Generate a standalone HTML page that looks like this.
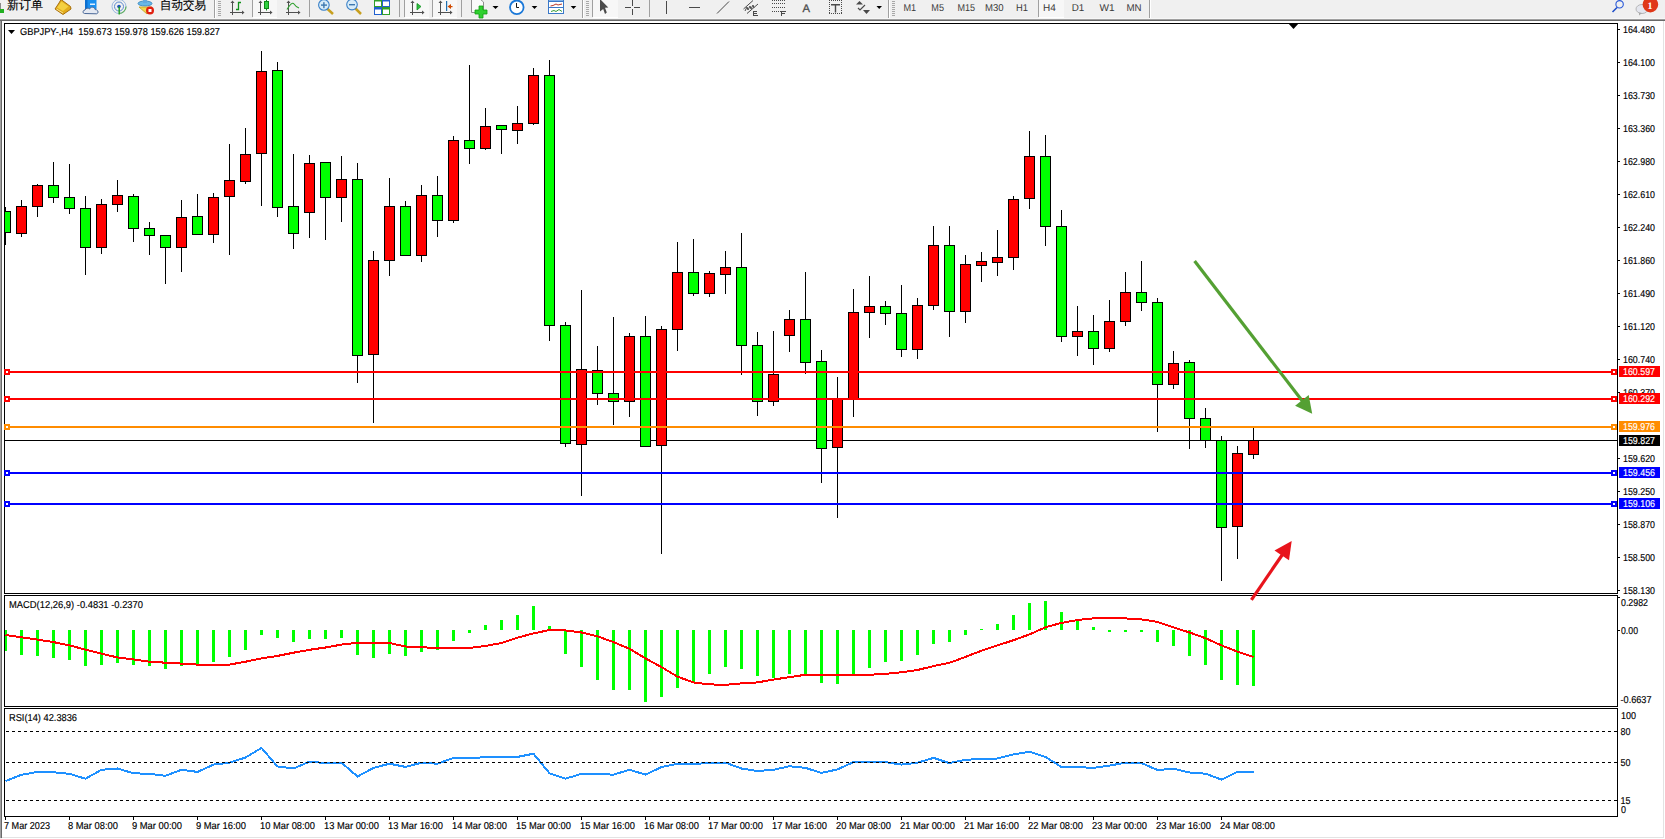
<!DOCTYPE html>
<html><head><meta charset="utf-8">
<style>
html,body{margin:0;padding:0;background:#f0f0f0;width:1665px;height:839px;overflow:hidden;font-family:"Liberation Sans",sans-serif;}
svg{position:absolute;left:0;top:0;display:block;}
text{text-rendering:geometricPrecision;}
.tk text{stroke:#000;stroke-width:0.15px;}
.tw{stroke:#fff;stroke-width:0.15px;}
</style></head><body>
<svg width="1665" height="839" viewBox="0 0 1665 839">
<rect x="0" y="0" width="1665" height="839" fill="#f0f0f0"/>
<rect x="0" y="21" width="1" height="817" fill="#a0a0a0"/>
<rect x="1" y="21" width="1" height="817" fill="#696969"/>
<rect x="2" y="837" width="1662" height="1" fill="#e3e3e3"/>
<rect x="1663" y="21" width="1" height="817" fill="#e3e3e3"/>
<rect x="1664" y="21" width="1" height="818" fill="#ffffff"/>
<rect x="2" y="838" width="1663" height="1" fill="#ffffff"/>
<rect x="0" y="0" width="1665" height="18" fill="#f0f0f0"/><rect x="0" y="18" width="1665" height="1" fill="#f7f7f7"/><rect x="0" y="19" width="1665" height="1" fill="#a0a0a0"/><rect x="0" y="20" width="1665" height="1" fill="#696969"/><g font-family="Liberation Sans, sans-serif">
<!-- partial green icon -->
<rect x="0" y="3" width="1" height="8" fill="#8a8a8a"/>
<rect x="0" y="9" width="4" height="4" fill="#22b022"/>
<text x="7" y="9" font-size="12.5" stroke="#000" stroke-width="0.15" fill="#000" textLength="36" lengthAdjust="spacingAndGlyphs">新订单</text>
<!-- gold book -->
<polygon points="61,-0.5 70.5,6.5 71,9 63,14.5 55,9 59,3" fill="#e2ac1c" stroke="#a8700e" stroke-width="1" stroke-linejoin="round"/>
<polygon points="61.5,1.5 68.5,6.5 63,11 57,7.5" fill="#f4d040"/>
<line x1="56.5" y1="9" x2="63" y2="13" stroke="#f8e090" stroke-width="1"/>
<!-- blue doc + cloud -->
<rect x="85" y="-2" width="11.5" height="11" fill="#1a90f0"/>
<rect x="85" y="-2" width="2.5" height="11" fill="#0c70d0"/>
<rect x="90" y="3.5" width="5" height="1.5" fill="#e0f0ff"/>
<path d="M84.5,13.5 C82.5,13.5 82.5,10 85,10 C85.5,8 88.5,7.5 89.5,9 C90.5,6.5 94.5,6.5 95,9.5 C98.5,9.5 99,13.5 96.5,13.8 Z" fill="#e4e9f2" stroke="#4a6898" stroke-width="1"/>
<!-- radar -->
<circle cx="119" cy="6.5" r="7" fill="none" stroke="#9ab8e0" stroke-width="1"/>
<circle cx="119" cy="6.5" r="4.5" fill="none" stroke="#5a88d0" stroke-width="1"/>
<path d="M119,13.5 A7,7 0 0 0 126,6.5" fill="none" stroke="#60b060" stroke-width="1.2"/>
<circle cx="119" cy="6.5" r="1.8" fill="#2050c0"/>
<rect x="118.5" y="6.5" width="1.4" height="8" fill="#20a020"/>
<!-- auto trading -->
<ellipse cx="145" cy="3.5" rx="7" ry="2.5" fill="#68b8e8" stroke="#3080b8" stroke-width="0.8"/>
<rect x="143" y="-2" width="4" height="5" fill="#60a8e0"/>
<polygon points="139,7 152,7 147,14" fill="#f0d850" stroke="#c0a020" stroke-width="0.8"/>
<circle cx="150" cy="10.5" r="4" fill="#e02010"/>
<rect x="148.5" y="9" width="3" height="3" fill="#fff"/>
<text x="160" y="9" font-size="12.5" stroke="#000" stroke-width="0.15" fill="#000" textLength="46" lengthAdjust="spacingAndGlyphs">自动交易</text>
<g shape-rendering="crispEdges">
<!-- separators -->
<rect x="214" y="0" width="1" height="18" fill="#a0a0a0"/><rect x="215" y="0" width="1" height="18" fill="#ffffff"/>
<rect x="252" y="0" width="1" height="17" fill="#a0a0a0"/>
<rect x="309" y="0" width="1" height="17" fill="#a0a0a0"/>
<rect x="399" y="0" width="1" height="17" fill="#a0a0a0"/>
<rect x="404" y="0" width="1" height="17" fill="#a0a0a0"/>
<rect x="432" y="0" width="1" height="17" fill="#a0a0a0"/>
<rect x="461" y="0" width="1" height="17" fill="#a0a0a0"/>
<rect x="582" y="0" width="1" height="18" fill="#a0a0a0"/><rect x="583" y="0" width="1" height="18" fill="#ffffff"/>
<rect x="592" y="0" width="1" height="17" fill="#a0a0a0"/>
<rect x="649" y="0" width="1" height="17" fill="#a0a0a0"/>
<rect x="888" y="0" width="1" height="18" fill="#a0a0a0"/><rect x="889" y="0" width="1" height="18" fill="#ffffff"/>
<rect x="1038" y="0" width="1" height="17" fill="#a0a0a0"/>
<rect x="1149" y="0" width="1" height="18" fill="#a0a0a0"/><rect x="1150" y="0" width="1" height="18" fill="#ffffff"/>
<!-- pressed backgrounds -->
<rect x="253" y="0" width="24" height="17" fill="#f7f7f7"/>
<rect x="405" y="0" width="24" height="17" fill="#f7f7f7"/>
<rect x="433" y="0" width="24" height="17" fill="#f7f7f7"/>
<rect x="593" y="0" width="25" height="17" fill="#f7f7f7"/>
<rect x="1039" y="0" width="25" height="17" fill="#f7f7f7"/>
<rect x="253" y="17" width="24" height="1" fill="#ffffff"/>
<rect x="405" y="17" width="24" height="1" fill="#ffffff"/>
<rect x="433" y="17" width="24" height="1" fill="#ffffff"/>
<rect x="593" y="17" width="25" height="1" fill="#ffffff"/>
<rect x="1039" y="17" width="25" height="1" fill="#ffffff"/>
<!-- grips -->
<path d="M218,1h3v1h-3zM218,3h3v1h-3zM218,5h3v1h-3zM218,7h3v1h-3zM218,9h3v1h-3zM218,11h3v1h-3zM218,13h3v1h-3zM218,15h3v1h-3z" fill="#a8a8a8"/>
<path d="M586,1h3v1h-3zM586,3h3v1h-3zM586,5h3v1h-3zM586,7h3v1h-3zM586,9h3v1h-3zM586,11h3v1h-3zM586,13h3v1h-3zM586,15h3v1h-3z" fill="#a8a8a8"/>
<path d="M892,1h3v1h-3zM892,3h3v1h-3zM892,5h3v1h-3zM892,7h3v1h-3zM892,9h3v1h-3zM892,11h3v1h-3zM892,13h3v1h-3zM892,15h3v1h-3z" fill="#a8a8a8"/>
</g>
<!-- axis icons -->
<g fill="#505050" shape-rendering="crispEdges">
<rect x="232" y="2" width="1" height="13"/><rect x="230" y="12" width="14" height="1"/>
<rect x="260" y="2" width="1" height="13"/><rect x="258" y="12" width="14" height="1"/>
<rect x="288" y="2" width="1" height="13"/><rect x="286" y="12" width="14" height="1"/>
<rect x="412" y="2" width="1" height="13"/><rect x="410" y="12" width="14" height="1"/>
<rect x="440" y="2" width="1" height="13"/><rect x="438" y="12" width="14" height="1"/>
</g>
<g fill="#505050">
<polygon points="230.5,3 234.5,3 232.5,0.5"/><polygon points="242,10.5 242,14.5 244.5,12.5"/>
<polygon points="258.5,3 262.5,3 260.5,0.5"/><polygon points="270,10.5 270,14.5 272.5,12.5"/>
<polygon points="286.5,3 290.5,3 288.5,0.5"/><polygon points="298,10.5 298,14.5 300.5,12.5"/>
<polygon points="410.5,3 414.5,3 412.5,0.5"/><polygon points="422,10.5 422,14.5 424.5,12.5"/>
<polygon points="438.5,3 442.5,3 440.5,0.5"/><polygon points="450,10.5 450,14.5 452.5,12.5"/>
</g>
<path d="M236,9.5h2.5v-7h2.5" fill="none" stroke="#10901a" stroke-width="1.3"/>
<rect x="264.5" y="1.5" width="4" height="7" fill="#30d040" stroke="#108a18" stroke-width="1"/>
<rect x="266" y="8.5" width="1" height="2" fill="#108a18"/><rect x="266" y="-1" width="1" height="2.5" fill="#108a18"/>
<path d="M287,9.5 Q292,1 294,4 T299,8" fill="none" stroke="#30a030" stroke-width="1.1"/>
<polygon points="417,3.5 417,10 421,6.5" fill="#30c040" stroke="#109020" stroke-width="0.8"/>
<rect x="446" y="1" width="1.2" height="10" fill="#2070b0"/>
<polygon points="447.5,6.5 451,4 451,9" fill="#d04a00"/><rect x="449" y="6" width="3.5" height="1.2" fill="#d04a00"/>
<!-- zoom -->
<line x1="327" y1="8.5" x2="333" y2="14" stroke="#c8a020" stroke-width="2.5"/>
<circle cx="323.9" cy="5" r="5.3" fill="#d8ecf8" stroke="#3c82c8" stroke-width="1.1"/>
<rect x="321" y="4.4" width="6" height="1.4" fill="#3c78b0"/><rect x="323.2" y="2.2" width="1.4" height="6" fill="#3c78b0"/>
<line x1="355.5" y1="8.5" x2="361" y2="14" stroke="#c8a020" stroke-width="2.5"/>
<circle cx="352" cy="4.6" r="5.3" fill="#d8ecf8" stroke="#3c82c8" stroke-width="1.1"/>
<rect x="349" y="4" width="6" height="1.4" fill="#3c78b0"/>
<!-- tile -->
<rect x="374" y="-1" width="8" height="8" fill="#30a028"/><rect x="382" y="-1" width="8" height="8" fill="#2060d0"/>
<rect x="374" y="7" width="8" height="8" fill="#2060d0"/><rect x="382" y="7" width="8" height="8" fill="#30a028"/>
<rect x="375" y="1.5" width="6" height="4.5" fill="#fff"/><rect x="383" y="1.5" width="6" height="4.5" fill="#fff"/>
<rect x="375" y="9.5" width="6" height="4.5" fill="#fff"/><rect x="383" y="9.5" width="6" height="4.5" fill="#fff"/>
<!-- indicators -->
<path d="M471.5,-1 V12.5 H483.5 V2 L480,-1 Z" fill="#fafafa" stroke="#909090" stroke-width="1"/>
<path d="M479,6 h4 v4 h4 v4 h-4 v4 h-4 v-4 h-4 v-4 h4 z" fill="#30d030" stroke="#10a010" stroke-width="0.8"/>
<polygon points="492.5,6 498.5,6 495.5,9" fill="#000"/>
<!-- clock -->
<circle cx="516.8" cy="7.3" r="6.8" fill="#fff" stroke="#1a78d8" stroke-width="1.8"/>
<path d="M516.5,3 V7.5 H519" fill="none" stroke="#000" stroke-width="0.9"/>
<polygon points="531.7,6 537.3,6 534.5,9" fill="#000"/>
<!-- template -->
<g shape-rendering="crispEdges">
<rect x="548" y="-1" width="16" height="15" fill="#3a78c8"/>
<rect x="549" y="2" width="14" height="5" fill="#fff"/>
<rect x="549" y="8" width="14" height="5" fill="#fff"/>
<rect x="549" y="0" width="14" height="1" fill="#7fb0e8"/>
</g>
<polyline points="550.5,6 553,5.5 556,4 558,5 562,4" fill="none" stroke="#b02010" stroke-width="0.9"/>
<polyline points="551,11.5 554,10.5 556,11.5 559,9.5 562,11.5" fill="none" stroke="#209020" stroke-width="0.9"/>
<polygon points="570.7,6 576.3,6 573.5,9" fill="#000"/>
<!-- cursor -->
<polygon points="600,-1 608.3,7.5 605,7.8 606.8,12.5 605,13.9 603.2,9 600,11.5" fill="#4a4a4a"/>
<!-- crosshair -->
<g fill="#4a4a4a" shape-rendering="crispEdges">
<rect x="625" y="7" width="6" height="1"/><rect x="634" y="7" width="6" height="1"/>
<rect x="632" y="0" width="1" height="6" /><rect x="632" y="9" width="1" height="6"/>
<rect x="666" y="1" width="1" height="13"/>
<rect x="689" y="7" width="11" height="1"/>
</g>
<line x1="717" y1="13.5" x2="729" y2="1.5" stroke="#4a4a4a" stroke-width="1"/>
<!-- channel E -->
<path d="M743.5,9 L753,0.5 M747,13.5 L758,4" stroke="#4a4a4a" stroke-width="1" fill="none"/>
<path d="M745,11 l2,-4 l1,3 l2,-4 l1,3 l2,-4 l1,3" stroke="#4a4a4a" stroke-width="1" fill="none"/>
<path d="M753,11h4v1h-3v1h3v1h-3v1h4v1h-5z" fill="#4a4a4a" shape-rendering="crispEdges"/>
<!-- fib F -->
<path d="M772,0.5h13M772,3.5h13M772,7.5h13M772,11.5h9" stroke="#4a4a4a" stroke-width="1" stroke-dasharray="1 1" fill="none"/>
<path d="M781,11h5v1h-4v1h3v1h-3v2h-1z" fill="#4a4a4a" shape-rendering="crispEdges"/>
<text x="802.5" y="12" font-size="11" fill="#4a4a4a" stroke="#4a4a4a" stroke-width="0.3" textLength="7.5" lengthAdjust="spacingAndGlyphs">A</text>
<path d="M829,0h1v1h-1zM829,13h1v1h-1zM831,0h1v1h-1zM831,13h1v1h-1zM833,0h1v1h-1zM833,13h1v1h-1zM835,0h1v1h-1zM835,13h1v1h-1zM837,0h1v1h-1zM837,13h1v1h-1zM839,0h1v1h-1zM839,13h1v1h-1zM841,0h1v1h-1zM841,13h1v1h-1zM829,2h1v1h-1zM841,2h1v1h-1zM829,4h1v1h-1zM841,4h1v1h-1zM829,6h1v1h-1zM841,6h1v1h-1zM829,8h1v1h-1zM841,8h1v1h-1zM829,10h1v1h-1zM841,10h1v1h-1zM829,12h1v1h-1zM841,12h1v1h-1z" fill="#4a4a4a" shape-rendering="crispEdges"/>
<path d="M831,4h9v1.5h-3.8v7h-1.4v-7h-3.8z" fill="#4a4a4a"/>
<!-- arrows icon -->
<polygon points="856,4.5 859.5,1 863,4.5" fill="#4a4a4a"/>
<polyline points="858,8 860,10 865,5" fill="none" stroke="#4a4a4a" stroke-width="1.2"/>
<polygon points="863,10 870,10 866.5,14" fill="#4a4a4a"/>
<polygon points="876.5,6 882,6 879.2,9" fill="#000"/>
<!-- timeframes -->
<g font-size="10" fill="#3a3a3a">
<text x="903.5" y="11" textLength="12.7" lengthAdjust="spacingAndGlyphs">M1</text>
<text x="931.3" y="11" textLength="12.7" lengthAdjust="spacingAndGlyphs">M5</text>
<text x="957.4" y="11" textLength="17.6" lengthAdjust="spacingAndGlyphs">M15</text>
<text x="985" y="11" textLength="18.6" lengthAdjust="spacingAndGlyphs">M30</text>
<text x="1016" y="11" textLength="12" lengthAdjust="spacingAndGlyphs">H1</text>
<text x="1043" y="11" textLength="12.8" lengthAdjust="spacingAndGlyphs">H4</text>
<text x="1071.7" y="11" textLength="12.6" lengthAdjust="spacingAndGlyphs">D1</text>
<text x="1099.5" y="11" textLength="15.1" lengthAdjust="spacingAndGlyphs">W1</text>
<text x="1126.4" y="11" textLength="15.1" lengthAdjust="spacingAndGlyphs">MN</text>
</g>
<!-- search -->
<circle cx="1619.6" cy="4.3" r="3.7" fill="none" stroke="#2858d8" stroke-width="1.1"/>
<line x1="1612.5" y1="12" x2="1617" y2="7.5" stroke="#2050c8" stroke-width="1.6"/>
<!-- chat + badge -->
<ellipse cx="1642" cy="9" rx="6" ry="4.5" fill="#e4e6ee" stroke="#a8a8a8" stroke-width="0.8"/>
<polygon points="1639,12.5 1639,15.5 1642,13" fill="#a8a8a8"/>
<circle cx="1650.4" cy="4.6" r="7.8" fill="#e03818"/>
<text x="1647.5" y="8.5" font-size="10" font-family="Liberation Serif, serif" font-weight="bold" fill="#fff">1</text>
</g>

<rect x="2" y="21" width="1661" height="816" fill="#ffffff"/><defs><clipPath id="cm"><rect x="5" y="24" width="1612" height="569"/></clipPath><clipPath id="cd"><rect x="5" y="596" width="1612" height="110"/></clipPath><clipPath id="cr"><rect x="5" y="709" width="1612" height="107"/></clipPath></defs><rect x="5" y="440" width="1612" height="1" fill="#000" shape-rendering="crispEdges"/><g clip-path="url(#cm)" shape-rendering="crispEdges"><rect x="5" y="207" width="1" height="38" fill="#000"/><rect x="0" y="211" width="11" height="22" fill="#000"/><rect x="1" y="212" width="9" height="20" fill="#00ff00"/><rect x="21" y="200" width="1" height="37" fill="#000"/><rect x="16" y="206" width="11" height="28" fill="#000"/><rect x="17" y="207" width="9" height="26" fill="#ff0000"/><rect x="37" y="184" width="1" height="33" fill="#000"/><rect x="32" y="185" width="11" height="22" fill="#000"/><rect x="33" y="186" width="9" height="20" fill="#ff0000"/><rect x="53" y="162" width="1" height="41" fill="#000"/><rect x="48" y="185" width="11" height="13" fill="#000"/><rect x="49" y="186" width="9" height="11" fill="#00ff00"/><rect x="69" y="164" width="1" height="50" fill="#000"/><rect x="64" y="197" width="11" height="12" fill="#000"/><rect x="65" y="198" width="9" height="10" fill="#00ff00"/><rect x="85" y="196" width="1" height="79" fill="#000"/><rect x="80" y="208" width="11" height="40" fill="#000"/><rect x="81" y="209" width="9" height="38" fill="#00ff00"/><rect x="101" y="199" width="1" height="55" fill="#000"/><rect x="96" y="204" width="11" height="44" fill="#000"/><rect x="97" y="205" width="9" height="42" fill="#ff0000"/><rect x="117" y="180" width="1" height="32" fill="#000"/><rect x="112" y="195" width="11" height="10" fill="#000"/><rect x="113" y="196" width="9" height="8" fill="#ff0000"/><rect x="133" y="194" width="1" height="48" fill="#000"/><rect x="128" y="196" width="11" height="33" fill="#000"/><rect x="129" y="197" width="9" height="31" fill="#00ff00"/><rect x="149" y="222" width="1" height="33" fill="#000"/><rect x="144" y="228" width="11" height="8" fill="#000"/><rect x="145" y="229" width="9" height="6" fill="#00ff00"/><rect x="165" y="235" width="1" height="49" fill="#000"/><rect x="160" y="235" width="11" height="13" fill="#000"/><rect x="161" y="236" width="9" height="11" fill="#00ff00"/><rect x="181" y="200" width="1" height="72" fill="#000"/><rect x="176" y="217" width="11" height="31" fill="#000"/><rect x="177" y="218" width="9" height="29" fill="#ff0000"/><rect x="197" y="194" width="1" height="41" fill="#000"/><rect x="192" y="216" width="11" height="19" fill="#000"/><rect x="193" y="217" width="9" height="17" fill="#00ff00"/><rect x="213" y="193" width="1" height="50" fill="#000"/><rect x="208" y="197" width="11" height="38" fill="#000"/><rect x="209" y="198" width="9" height="36" fill="#ff0000"/><rect x="229" y="144" width="1" height="111" fill="#000"/><rect x="224" y="180" width="11" height="17" fill="#000"/><rect x="225" y="181" width="9" height="15" fill="#ff0000"/><rect x="245" y="128" width="1" height="56" fill="#000"/><rect x="240" y="154" width="11" height="28" fill="#000"/><rect x="241" y="155" width="9" height="26" fill="#ff0000"/><rect x="261" y="51" width="1" height="155" fill="#000"/><rect x="256" y="71" width="11" height="83" fill="#000"/><rect x="257" y="72" width="9" height="81" fill="#ff0000"/><rect x="277" y="62" width="1" height="155" fill="#000"/><rect x="272" y="70" width="11" height="138" fill="#000"/><rect x="273" y="71" width="9" height="136" fill="#00ff00"/><rect x="293" y="154" width="1" height="95" fill="#000"/><rect x="288" y="206" width="11" height="28" fill="#000"/><rect x="289" y="207" width="9" height="26" fill="#00ff00"/><rect x="309" y="155" width="1" height="83" fill="#000"/><rect x="304" y="163" width="11" height="50" fill="#000"/><rect x="305" y="164" width="9" height="48" fill="#ff0000"/><rect x="325" y="162" width="1" height="78" fill="#000"/><rect x="320" y="162" width="11" height="36" fill="#000"/><rect x="321" y="163" width="9" height="34" fill="#00ff00"/><rect x="341" y="156" width="1" height="66" fill="#000"/><rect x="336" y="179" width="11" height="19" fill="#000"/><rect x="337" y="180" width="9" height="17" fill="#ff0000"/><rect x="357" y="163" width="1" height="220" fill="#000"/><rect x="352" y="179" width="11" height="177" fill="#000"/><rect x="353" y="180" width="9" height="175" fill="#00ff00"/><rect x="373" y="251" width="1" height="172" fill="#000"/><rect x="368" y="260" width="11" height="95" fill="#000"/><rect x="369" y="261" width="9" height="93" fill="#ff0000"/><rect x="389" y="178" width="1" height="98" fill="#000"/><rect x="384" y="206" width="11" height="55" fill="#000"/><rect x="385" y="207" width="9" height="53" fill="#ff0000"/><rect x="405" y="201" width="1" height="55" fill="#000"/><rect x="400" y="206" width="11" height="50" fill="#000"/><rect x="401" y="207" width="9" height="48" fill="#00ff00"/><rect x="421" y="185" width="1" height="77" fill="#000"/><rect x="416" y="195" width="11" height="61" fill="#000"/><rect x="417" y="196" width="9" height="59" fill="#ff0000"/><rect x="437" y="176" width="1" height="61" fill="#000"/><rect x="432" y="195" width="11" height="26" fill="#000"/><rect x="433" y="196" width="9" height="24" fill="#00ff00"/><rect x="453" y="136" width="1" height="87" fill="#000"/><rect x="448" y="140" width="11" height="81" fill="#000"/><rect x="449" y="141" width="9" height="79" fill="#ff0000"/><rect x="469" y="65" width="1" height="99" fill="#000"/><rect x="464" y="140" width="11" height="9" fill="#000"/><rect x="465" y="141" width="9" height="7" fill="#00ff00"/><rect x="485" y="108" width="1" height="42" fill="#000"/><rect x="480" y="126" width="11" height="23" fill="#000"/><rect x="481" y="127" width="9" height="21" fill="#ff0000"/><rect x="501" y="125" width="1" height="29" fill="#000"/><rect x="496" y="125" width="11" height="5" fill="#000"/><rect x="497" y="126" width="9" height="3" fill="#00ff00"/><rect x="517" y="106" width="1" height="38" fill="#000"/><rect x="512" y="123" width="11" height="8" fill="#000"/><rect x="513" y="124" width="9" height="6" fill="#ff0000"/><rect x="533" y="68" width="1" height="57" fill="#000"/><rect x="528" y="75" width="11" height="49" fill="#000"/><rect x="529" y="76" width="9" height="47" fill="#ff0000"/><rect x="549" y="60" width="1" height="281" fill="#000"/><rect x="544" y="75" width="11" height="251" fill="#000"/><rect x="545" y="76" width="9" height="249" fill="#00ff00"/><rect x="565" y="322" width="1" height="125" fill="#000"/><rect x="560" y="325" width="11" height="119" fill="#000"/><rect x="561" y="326" width="9" height="117" fill="#00ff00"/><rect x="581" y="290" width="1" height="206" fill="#000"/><rect x="576" y="369" width="11" height="76" fill="#000"/><rect x="577" y="370" width="9" height="74" fill="#ff0000"/><rect x="597" y="346" width="1" height="59" fill="#000"/><rect x="592" y="370" width="11" height="24" fill="#000"/><rect x="593" y="371" width="9" height="22" fill="#00ff00"/><rect x="613" y="317" width="1" height="108" fill="#000"/><rect x="608" y="393" width="11" height="9" fill="#000"/><rect x="609" y="394" width="9" height="7" fill="#00ff00"/><rect x="629" y="333" width="1" height="84" fill="#000"/><rect x="624" y="336" width="11" height="66" fill="#000"/><rect x="625" y="337" width="9" height="64" fill="#ff0000"/><rect x="645" y="316" width="1" height="131" fill="#000"/><rect x="640" y="336" width="11" height="111" fill="#000"/><rect x="641" y="337" width="9" height="109" fill="#00ff00"/><rect x="661" y="326" width="1" height="228" fill="#000"/><rect x="656" y="329" width="11" height="117" fill="#000"/><rect x="657" y="330" width="9" height="115" fill="#ff0000"/><rect x="677" y="242" width="1" height="109" fill="#000"/><rect x="672" y="272" width="11" height="58" fill="#000"/><rect x="673" y="273" width="9" height="56" fill="#ff0000"/><rect x="693" y="239" width="1" height="57" fill="#000"/><rect x="688" y="272" width="11" height="22" fill="#000"/><rect x="689" y="273" width="9" height="20" fill="#00ff00"/><rect x="709" y="271" width="1" height="26" fill="#000"/><rect x="704" y="273" width="11" height="21" fill="#000"/><rect x="705" y="274" width="9" height="19" fill="#ff0000"/><rect x="725" y="251" width="1" height="43" fill="#000"/><rect x="720" y="267" width="11" height="8" fill="#000"/><rect x="721" y="268" width="9" height="6" fill="#ff0000"/><rect x="741" y="233" width="1" height="142" fill="#000"/><rect x="736" y="267" width="11" height="79" fill="#000"/><rect x="737" y="268" width="9" height="77" fill="#00ff00"/><rect x="757" y="332" width="1" height="84" fill="#000"/><rect x="752" y="345" width="11" height="57" fill="#000"/><rect x="753" y="346" width="9" height="55" fill="#00ff00"/><rect x="773" y="331" width="1" height="75" fill="#000"/><rect x="768" y="374" width="11" height="28" fill="#000"/><rect x="769" y="375" width="9" height="26" fill="#ff0000"/><rect x="789" y="310" width="1" height="42" fill="#000"/><rect x="784" y="319" width="11" height="17" fill="#000"/><rect x="785" y="320" width="9" height="15" fill="#ff0000"/><rect x="805" y="272" width="1" height="102" fill="#000"/><rect x="800" y="319" width="11" height="44" fill="#000"/><rect x="801" y="320" width="9" height="42" fill="#00ff00"/><rect x="821" y="350" width="1" height="133" fill="#000"/><rect x="816" y="361" width="11" height="88" fill="#000"/><rect x="817" y="362" width="9" height="86" fill="#00ff00"/><rect x="837" y="377" width="1" height="141" fill="#000"/><rect x="832" y="399" width="11" height="49" fill="#000"/><rect x="833" y="400" width="9" height="47" fill="#ff0000"/><rect x="853" y="289" width="1" height="128" fill="#000"/><rect x="848" y="312" width="11" height="88" fill="#000"/><rect x="849" y="313" width="9" height="86" fill="#ff0000"/><rect x="869" y="276" width="1" height="62" fill="#000"/><rect x="864" y="306" width="11" height="7" fill="#000"/><rect x="865" y="307" width="9" height="5" fill="#ff0000"/><rect x="885" y="301" width="1" height="24" fill="#000"/><rect x="880" y="306" width="11" height="8" fill="#000"/><rect x="881" y="307" width="9" height="6" fill="#00ff00"/><rect x="901" y="285" width="1" height="72" fill="#000"/><rect x="896" y="313" width="11" height="37" fill="#000"/><rect x="897" y="314" width="9" height="35" fill="#00ff00"/><rect x="917" y="298" width="1" height="61" fill="#000"/><rect x="912" y="305" width="11" height="45" fill="#000"/><rect x="913" y="306" width="9" height="43" fill="#ff0000"/><rect x="933" y="226" width="1" height="84" fill="#000"/><rect x="928" y="245" width="11" height="61" fill="#000"/><rect x="929" y="246" width="9" height="59" fill="#ff0000"/><rect x="949" y="226" width="1" height="111" fill="#000"/><rect x="944" y="245" width="11" height="67" fill="#000"/><rect x="945" y="246" width="9" height="65" fill="#00ff00"/><rect x="965" y="255" width="1" height="68" fill="#000"/><rect x="960" y="264" width="11" height="48" fill="#000"/><rect x="961" y="265" width="9" height="46" fill="#ff0000"/><rect x="981" y="252" width="1" height="30" fill="#000"/><rect x="976" y="261" width="11" height="5" fill="#000"/><rect x="977" y="262" width="9" height="3" fill="#ff0000"/><rect x="997" y="230" width="1" height="46" fill="#000"/><rect x="992" y="257" width="11" height="6" fill="#000"/><rect x="993" y="258" width="9" height="4" fill="#ff0000"/><rect x="1013" y="196" width="1" height="74" fill="#000"/><rect x="1008" y="199" width="11" height="59" fill="#000"/><rect x="1009" y="200" width="9" height="57" fill="#ff0000"/><rect x="1029" y="131" width="1" height="78" fill="#000"/><rect x="1024" y="156" width="11" height="43" fill="#000"/><rect x="1025" y="157" width="9" height="41" fill="#ff0000"/><rect x="1045" y="135" width="1" height="111" fill="#000"/><rect x="1040" y="156" width="11" height="71" fill="#000"/><rect x="1041" y="157" width="9" height="69" fill="#00ff00"/><rect x="1061" y="210" width="1" height="132" fill="#000"/><rect x="1056" y="226" width="11" height="111" fill="#000"/><rect x="1057" y="227" width="9" height="109" fill="#00ff00"/><rect x="1077" y="306" width="1" height="50" fill="#000"/><rect x="1072" y="331" width="11" height="6" fill="#000"/><rect x="1073" y="332" width="9" height="4" fill="#ff0000"/><rect x="1093" y="315" width="1" height="50" fill="#000"/><rect x="1088" y="331" width="11" height="18" fill="#000"/><rect x="1089" y="332" width="9" height="16" fill="#00ff00"/><rect x="1109" y="300" width="1" height="52" fill="#000"/><rect x="1104" y="321" width="11" height="28" fill="#000"/><rect x="1105" y="322" width="9" height="26" fill="#ff0000"/><rect x="1125" y="272" width="1" height="54" fill="#000"/><rect x="1120" y="292" width="11" height="30" fill="#000"/><rect x="1121" y="293" width="9" height="28" fill="#ff0000"/><rect x="1141" y="261" width="1" height="50" fill="#000"/><rect x="1136" y="292" width="11" height="11" fill="#000"/><rect x="1137" y="293" width="9" height="9" fill="#00ff00"/><rect x="1157" y="298" width="1" height="134" fill="#000"/><rect x="1152" y="302" width="11" height="83" fill="#000"/><rect x="1153" y="303" width="9" height="81" fill="#00ff00"/><rect x="1173" y="351" width="1" height="38" fill="#000"/><rect x="1168" y="363" width="11" height="22" fill="#000"/><rect x="1169" y="364" width="9" height="20" fill="#ff0000"/><rect x="1189" y="360" width="1" height="89" fill="#000"/><rect x="1184" y="362" width="11" height="57" fill="#000"/><rect x="1185" y="363" width="9" height="55" fill="#00ff00"/><rect x="1205" y="408" width="1" height="40" fill="#000"/><rect x="1200" y="418" width="11" height="23" fill="#000"/><rect x="1201" y="419" width="9" height="21" fill="#00ff00"/><rect x="1221" y="436" width="1" height="145" fill="#000"/><rect x="1216" y="440" width="11" height="88" fill="#000"/><rect x="1217" y="441" width="9" height="86" fill="#00ff00"/><rect x="1237" y="446" width="1" height="113" fill="#000"/><rect x="1232" y="453" width="11" height="74" fill="#000"/><rect x="1233" y="454" width="9" height="72" fill="#ff0000"/><rect x="1253" y="427" width="1" height="32" fill="#000"/><rect x="1248" y="440" width="11" height="15" fill="#000"/><rect x="1249" y="441" width="9" height="13" fill="#ff0000"/></g><g shape-rendering="crispEdges" fill="none" stroke="#000" stroke-width="1"><rect x="4.5" y="23.5" width="1613" height="570"/><rect x="4.5" y="595.5" width="1613" height="111"/><rect x="4.5" y="708.5" width="1613" height="108"/></g><g shape-rendering="crispEdges"><rect x="5" y="371" width="1612" height="2" fill="#ff0000"/><rect x="4" y="369" width="6" height="6" fill="#ff0000"/><rect x="6" y="371" width="2" height="2" fill="#fff"/><rect x="1611" y="369" width="6" height="6" fill="#ff0000"/><rect x="1613" y="371" width="2" height="2" fill="#fff"/><rect x="5" y="398" width="1612" height="2" fill="#ff0000"/><rect x="4" y="396" width="6" height="6" fill="#ff0000"/><rect x="6" y="398" width="2" height="2" fill="#fff"/><rect x="1611" y="396" width="6" height="6" fill="#ff0000"/><rect x="1613" y="398" width="2" height="2" fill="#fff"/><rect x="5" y="426" width="1612" height="2" fill="#ff8c00"/><rect x="4" y="424" width="6" height="6" fill="#ff8c00"/><rect x="6" y="426" width="2" height="2" fill="#fff"/><rect x="1611" y="424" width="6" height="6" fill="#ff8c00"/><rect x="1613" y="426" width="2" height="2" fill="#fff"/><rect x="5" y="472" width="1612" height="2" fill="#0000ff"/><rect x="4" y="470" width="6" height="6" fill="#0000ff"/><rect x="6" y="472" width="2" height="2" fill="#fff"/><rect x="1611" y="470" width="6" height="6" fill="#0000ff"/><rect x="1613" y="472" width="2" height="2" fill="#fff"/><rect x="5" y="503" width="1612" height="2" fill="#0000ff"/><rect x="4" y="501" width="6" height="6" fill="#0000ff"/><rect x="6" y="503" width="2" height="2" fill="#fff"/><rect x="1611" y="501" width="6" height="6" fill="#0000ff"/><rect x="1613" y="503" width="2" height="2" fill="#fff"/></g><line x1="1194.6" y1="261.1" x2="1303.5" y2="402.5" stroke="#54a033" stroke-width="3.2"/><polygon points="1295.1,405.7 1308.7,395 1312.2,413.8" fill="#54a033"/><g clip-path="url(#cd)" shape-rendering="crispEdges"><rect x="4" y="630" width="3" height="21" fill="#00ff00"/><rect x="20" y="630" width="3" height="25" fill="#00ff00"/><rect x="36" y="630" width="3" height="26" fill="#00ff00"/><rect x="52" y="630" width="3" height="28" fill="#00ff00"/><rect x="68" y="630" width="3" height="30" fill="#00ff00"/><rect x="84" y="630" width="3" height="36" fill="#00ff00"/><rect x="100" y="630" width="3" height="35" fill="#00ff00"/><rect x="116" y="630" width="3" height="33" fill="#00ff00"/><rect x="132" y="630" width="3" height="35" fill="#00ff00"/><rect x="148" y="630" width="3" height="36" fill="#00ff00"/><rect x="164" y="630" width="3" height="39" fill="#00ff00"/><rect x="180" y="630" width="3" height="36" fill="#00ff00"/><rect x="196" y="630" width="3" height="36" fill="#00ff00"/><rect x="212" y="630" width="3" height="32" fill="#00ff00"/><rect x="228" y="630" width="3" height="27" fill="#00ff00"/><rect x="244" y="630" width="3" height="20" fill="#00ff00"/><rect x="260" y="630" width="3" height="5" fill="#00ff00"/><rect x="276" y="630" width="3" height="8" fill="#00ff00"/><rect x="292" y="630" width="3" height="12" fill="#00ff00"/><rect x="308" y="630" width="3" height="9" fill="#00ff00"/><rect x="324" y="630" width="3" height="9" fill="#00ff00"/><rect x="340" y="630" width="3" height="8" fill="#00ff00"/><rect x="356" y="630" width="3" height="25" fill="#00ff00"/><rect x="372" y="630" width="3" height="28" fill="#00ff00"/><rect x="388" y="630" width="3" height="24" fill="#00ff00"/><rect x="404" y="630" width="3" height="26" fill="#00ff00"/><rect x="420" y="630" width="3" height="22" fill="#00ff00"/><rect x="436" y="630" width="3" height="20" fill="#00ff00"/><rect x="452" y="630" width="3" height="11" fill="#00ff00"/><rect x="468" y="630" width="3" height="3" fill="#00ff00"/><rect x="484" y="625" width="3" height="5" fill="#00ff00"/><rect x="500" y="620" width="3" height="10" fill="#00ff00"/><rect x="516" y="615" width="3" height="15" fill="#00ff00"/><rect x="532" y="606" width="3" height="24" fill="#00ff00"/><rect x="548" y="626" width="3" height="4" fill="#00ff00"/><rect x="564" y="630" width="3" height="24" fill="#00ff00"/><rect x="580" y="630" width="3" height="37" fill="#00ff00"/><rect x="596" y="630" width="3" height="50" fill="#00ff00"/><rect x="612" y="630" width="3" height="60" fill="#00ff00"/><rect x="628" y="630" width="3" height="60" fill="#00ff00"/><rect x="644" y="630" width="3" height="72" fill="#00ff00"/><rect x="660" y="630" width="3" height="67" fill="#00ff00"/><rect x="676" y="630" width="3" height="58" fill="#00ff00"/><rect x="692" y="630" width="3" height="52" fill="#00ff00"/><rect x="708" y="630" width="3" height="44" fill="#00ff00"/><rect x="724" y="630" width="3" height="37" fill="#00ff00"/><rect x="740" y="630" width="3" height="39" fill="#00ff00"/><rect x="756" y="630" width="3" height="46" fill="#00ff00"/><rect x="772" y="630" width="3" height="48" fill="#00ff00"/><rect x="788" y="630" width="3" height="44" fill="#00ff00"/><rect x="804" y="630" width="3" height="44" fill="#00ff00"/><rect x="820" y="630" width="3" height="53" fill="#00ff00"/><rect x="836" y="630" width="3" height="54" fill="#00ff00"/><rect x="852" y="630" width="3" height="44" fill="#00ff00"/><rect x="868" y="630" width="3" height="38" fill="#00ff00"/><rect x="884" y="630" width="3" height="32" fill="#00ff00"/><rect x="900" y="630" width="3" height="31" fill="#00ff00"/><rect x="916" y="630" width="3" height="25" fill="#00ff00"/><rect x="932" y="630" width="3" height="14" fill="#00ff00"/><rect x="948" y="630" width="3" height="12" fill="#00ff00"/><rect x="964" y="630" width="3" height="5" fill="#00ff00"/><rect x="980" y="629" width="3" height="1" fill="#00ff00"/><rect x="996" y="624" width="3" height="6" fill="#00ff00"/><rect x="1012" y="615" width="3" height="15" fill="#00ff00"/><rect x="1028" y="603" width="3" height="27" fill="#00ff00"/><rect x="1044" y="601" width="3" height="29" fill="#00ff00"/><rect x="1060" y="612" width="3" height="18" fill="#00ff00"/><rect x="1076" y="619" width="3" height="11" fill="#00ff00"/><rect x="1092" y="627" width="3" height="3" fill="#00ff00"/><rect x="1108" y="630" width="3" height="2" fill="#00ff00"/><rect x="1124" y="630" width="3" height="2" fill="#00ff00"/><rect x="1140" y="630" width="3" height="2" fill="#00ff00"/><rect x="1156" y="630" width="3" height="12" fill="#00ff00"/><rect x="1172" y="630" width="3" height="16" fill="#00ff00"/><rect x="1188" y="630" width="3" height="26" fill="#00ff00"/><rect x="1204" y="630" width="3" height="35" fill="#00ff00"/><rect x="1220" y="630" width="3" height="50" fill="#00ff00"/><rect x="1236" y="630" width="3" height="55" fill="#00ff00"/><rect x="1252" y="630" width="3" height="56" fill="#00ff00"/></g><g clip-path="url(#cd)"><polyline points="5.5,635.0 21.5,637.3 37.5,639.6 53.5,642.1 69.5,645.4 85.5,649.6 101.5,653.6 117.5,657.5 133.5,659.4 149.5,661.7 165.5,662.7 181.5,663.6 197.5,664.6 213.5,664.6 229.5,664.6 245.5,661.7 261.5,658.4 277.5,655.9 293.5,652.7 309.5,649.8 325.5,647.5 341.5,644.6 357.5,642.7 373.5,642.7 389.5,643.0 405.5,646.5 421.5,647.3 437.5,647.9 453.5,647.9 469.5,647.9 485.5,646.0 501.5,643.0 517.5,637.7 533.5,633.4 549.5,630.0 565.5,630.4 581.5,632.5 597.5,636.3 613.5,642.1 629.5,648.8 645.5,658.4 661.5,667.1 677.5,676.7 693.5,682.4 709.5,684.4 725.5,684.8 741.5,683.4 757.5,682.4 773.5,679.6 789.5,677.1 805.5,674.8 821.5,674.8 837.5,674.8 853.5,674.8 869.5,674.8 885.5,673.8 901.5,672.3 917.5,670.0 933.5,666.1 949.5,662.8 965.5,656.9 981.5,650.7 997.5,645.4 1013.5,640.2 1029.5,634.4 1045.5,627.3 1061.5,622.9 1077.5,620.0 1093.5,618.4 1109.5,618.1 1125.5,618.4 1141.5,619.4 1157.5,621.9 1173.5,627.3 1189.5,632.5 1205.5,638.2 1221.5,645.4 1237.5,651.7 1253.5,657.1" fill="none" stroke="#ff0000" stroke-width="2" stroke-linejoin="round" shape-rendering="crispEdges"/></g><g clip-path="url(#cr)"><polyline points="5.5,781.0 21.5,774.8 37.5,771.9 53.5,772.3 69.5,773.8 85.5,778.7 101.5,769.8 117.5,768.5 133.5,773.3 149.5,773.8 165.5,775.8 181.5,769.8 197.5,771.9 213.5,764.6 229.5,762.7 245.5,757.5 261.5,747.9 277.5,766.5 293.5,768.5 309.5,761.7 325.5,763.1 341.5,762.7 357.5,776.5 373.5,767.9 389.5,763.7 405.5,766.9 421.5,762.7 437.5,763.7 453.5,757.9 469.5,757.9 485.5,757.3 501.5,756.9 517.5,756.9 533.5,753.7 549.5,773.3 565.5,778.7 581.5,773.8 597.5,774.2 613.5,774.6 629.5,769.8 645.5,774.6 661.5,767.1 677.5,763.7 693.5,763.7 709.5,763.3 725.5,762.7 741.5,768.5 757.5,771.0 773.5,769.8 789.5,766.2 805.5,767.9 821.5,772.9 837.5,769.4 853.5,762.1 869.5,762.1 885.5,762.1 901.5,764.6 917.5,762.7 933.5,757.9 949.5,763.1 965.5,759.8 981.5,758.9 997.5,758.5 1013.5,754.4 1029.5,751.7 1045.5,756.9 1061.5,767.1 1077.5,767.1 1093.5,767.9 1109.5,765.6 1125.5,762.7 1141.5,763.1 1157.5,770.0 1173.5,768.7 1189.5,772.5 1205.5,773.7 1221.5,779.6 1237.5,771.9 1253.5,771.9" fill="none" stroke="#1e90ff" stroke-width="2" stroke-linejoin="round" shape-rendering="crispEdges"/></g><g shape-rendering="crispEdges"><line x1="6" y1="731.5" x2="1617" y2="731.5" stroke="#000" stroke-width="1" stroke-dasharray="3 3"/><line x1="6" y1="762.5" x2="1617" y2="762.5" stroke="#000" stroke-width="1" stroke-dasharray="3 3"/><line x1="6" y1="800.5" x2="1617" y2="800.5" stroke="#000" stroke-width="1" stroke-dasharray="3 3"/></g><line x1="1251.4" y1="599.9" x2="1284.5" y2="551.5" stroke="#e8141c" stroke-width="3.2"/><polygon points="1274.5,550.6 1291.7,540.9 1289,560.2" fill="#e8141c"/><polygon points="1288,23 1299,23 1293.5,29" fill="#000"/><g shape-rendering="crispEdges"><rect x="1618" y="29" width="2" height="1" fill="#000"/><rect x="1618" y="62" width="2" height="1" fill="#000"/><rect x="1618" y="95" width="2" height="1" fill="#000"/><rect x="1618" y="128" width="2" height="1" fill="#000"/><rect x="1618" y="161" width="2" height="1" fill="#000"/><rect x="1618" y="194" width="2" height="1" fill="#000"/><rect x="1618" y="227" width="2" height="1" fill="#000"/><rect x="1618" y="260" width="2" height="1" fill="#000"/><rect x="1618" y="293" width="2" height="1" fill="#000"/><rect x="1618" y="326" width="2" height="1" fill="#000"/><rect x="1618" y="359" width="2" height="1" fill="#000"/><rect x="1618" y="392" width="2" height="1" fill="#000"/><rect x="1618" y="458" width="2" height="1" fill="#000"/><rect x="1618" y="491" width="2" height="1" fill="#000"/><rect x="1618" y="524" width="2" height="1" fill="#000"/><rect x="1618" y="557" width="2" height="1" fill="#000"/><rect x="1618" y="590" width="2" height="1" fill="#000"/></g><g class="tk" font-family="Liberation Sans, sans-serif" font-size="10" fill="#000"><text x="1623" y="33" textLength="32" lengthAdjust="spacingAndGlyphs">164.480</text><text x="1623" y="66" textLength="32" lengthAdjust="spacingAndGlyphs">164.100</text><text x="1623" y="99" textLength="32" lengthAdjust="spacingAndGlyphs">163.730</text><text x="1623" y="132" textLength="32" lengthAdjust="spacingAndGlyphs">163.360</text><text x="1623" y="165" textLength="32" lengthAdjust="spacingAndGlyphs">162.980</text><text x="1623" y="198" textLength="32" lengthAdjust="spacingAndGlyphs">162.610</text><text x="1623" y="231" textLength="32" lengthAdjust="spacingAndGlyphs">162.240</text><text x="1623" y="264" textLength="32" lengthAdjust="spacingAndGlyphs">161.860</text><text x="1623" y="297" textLength="32" lengthAdjust="spacingAndGlyphs">161.490</text><text x="1623" y="330" textLength="32" lengthAdjust="spacingAndGlyphs">161.120</text><text x="1623" y="363" textLength="32" lengthAdjust="spacingAndGlyphs">160.740</text><text x="1623" y="396" textLength="32" lengthAdjust="spacingAndGlyphs">160.370</text><text x="1623" y="462" textLength="32" lengthAdjust="spacingAndGlyphs">159.620</text><text x="1623" y="495" textLength="32" lengthAdjust="spacingAndGlyphs">159.250</text><text x="1623" y="528" textLength="32" lengthAdjust="spacingAndGlyphs">158.870</text><text x="1623" y="561" textLength="32" lengthAdjust="spacingAndGlyphs">158.500</text><text x="1623" y="594" textLength="32" lengthAdjust="spacingAndGlyphs">158.130</text></g><rect x="1619" y="366" width="41" height="11" fill="#ff0000" shape-rendering="crispEdges"/><text class="tw" x="1623" y="375" font-family="Liberation Sans, sans-serif" font-size="10" fill="#fff" textLength="32" lengthAdjust="spacingAndGlyphs">160.597</text><rect x="1619" y="393" width="41" height="11" fill="#ff0000" shape-rendering="crispEdges"/><text class="tw" x="1623" y="402" font-family="Liberation Sans, sans-serif" font-size="10" fill="#fff" textLength="32" lengthAdjust="spacingAndGlyphs">160.292</text><rect x="1619" y="421" width="41" height="11" fill="#ff8c00" shape-rendering="crispEdges"/><text class="tw" x="1623" y="430" font-family="Liberation Sans, sans-serif" font-size="10" fill="#fff" textLength="32" lengthAdjust="spacingAndGlyphs">159.976</text><rect x="1619" y="435" width="41" height="11" fill="#000" shape-rendering="crispEdges"/><text class="tw" x="1623" y="444" font-family="Liberation Sans, sans-serif" font-size="10" fill="#fff" textLength="32" lengthAdjust="spacingAndGlyphs">159.827</text><rect x="1619" y="467" width="41" height="11" fill="#0000ff" shape-rendering="crispEdges"/><text class="tw" x="1623" y="476" font-family="Liberation Sans, sans-serif" font-size="10" fill="#fff" textLength="32" lengthAdjust="spacingAndGlyphs">159.456</text><rect x="1619" y="498" width="41" height="11" fill="#0000ff" shape-rendering="crispEdges"/><text class="tw" x="1623" y="507" font-family="Liberation Sans, sans-serif" font-size="10" fill="#fff" textLength="32" lengthAdjust="spacingAndGlyphs">159.106</text><g class="tk" font-family="Liberation Sans, sans-serif" font-size="10" fill="#000"><text x="1621" y="606" textLength="27" lengthAdjust="spacingAndGlyphs">0.2982</text><text x="1621" y="634" textLength="17" lengthAdjust="spacingAndGlyphs">0.00</text><text x="1620.5" y="703" textLength="31" lengthAdjust="spacingAndGlyphs">-0.6637</text><text x="1621" y="719" textLength="15" lengthAdjust="spacingAndGlyphs">100</text><text x="1620.5" y="735" textLength="10" lengthAdjust="spacingAndGlyphs">80</text><text x="1620.5" y="766" textLength="10" lengthAdjust="spacingAndGlyphs">50</text><text x="1620.5" y="804" textLength="10" lengthAdjust="spacingAndGlyphs">15</text><text x="1621" y="813" textLength="5" lengthAdjust="spacingAndGlyphs">0</text></g><g shape-rendering="crispEdges" fill="#000"><rect x="1618" y="630" width="2" height="1"/><rect x="1618" y="597" width="2" height="1"/></g><polygon points="8,30 15,30 11.5,34" fill="#000"/><text x="20" y="35" stroke="#000" stroke-width="0.15" font-family="Liberation Sans, sans-serif" font-size="10" fill="#000" textLength="200" lengthAdjust="spacingAndGlyphs" xml:space="preserve">GBPJPY-,H4  159.673 159.978 159.626 159.827</text><text x="9" y="608" stroke="#000" stroke-width="0.15" font-family="Liberation Sans, sans-serif" font-size="10" fill="#000" textLength="134" lengthAdjust="spacingAndGlyphs">MACD(12,26,9) -0.4831 -0.2370</text><text x="9" y="721" stroke="#000" stroke-width="0.15" font-family="Liberation Sans, sans-serif" font-size="10" fill="#000" textLength="68" lengthAdjust="spacingAndGlyphs">RSI(14) 42.3836</text><g shape-rendering="crispEdges" fill="#000"><rect x="5" y="817" width="1" height="3"/><rect x="69" y="817" width="1" height="3"/><rect x="133" y="817" width="1" height="3"/><rect x="197" y="817" width="1" height="3"/><rect x="261" y="817" width="1" height="3"/><rect x="325" y="817" width="1" height="3"/><rect x="389" y="817" width="1" height="3"/><rect x="453" y="817" width="1" height="3"/><rect x="517" y="817" width="1" height="3"/><rect x="581" y="817" width="1" height="3"/><rect x="645" y="817" width="1" height="3"/><rect x="709" y="817" width="1" height="3"/><rect x="773" y="817" width="1" height="3"/><rect x="837" y="817" width="1" height="3"/><rect x="901" y="817" width="1" height="3"/><rect x="965" y="817" width="1" height="3"/><rect x="1029" y="817" width="1" height="3"/><rect x="1093" y="817" width="1" height="3"/><rect x="1157" y="817" width="1" height="3"/><rect x="1221" y="817" width="1" height="3"/></g><g class="tk" font-family="Liberation Sans, sans-serif" font-size="10" fill="#000"><text x="4" y="829" textLength="46" lengthAdjust="spacingAndGlyphs">7 Mar 2023</text><text x="68" y="829" textLength="50" lengthAdjust="spacingAndGlyphs">8 Mar 08:00</text><text x="132" y="829" textLength="50" lengthAdjust="spacingAndGlyphs">9 Mar 00:00</text><text x="196" y="829" textLength="50" lengthAdjust="spacingAndGlyphs">9 Mar 16:00</text><text x="260" y="829" textLength="55" lengthAdjust="spacingAndGlyphs">10 Mar 08:00</text><text x="324" y="829" textLength="55" lengthAdjust="spacingAndGlyphs">13 Mar 00:00</text><text x="388" y="829" textLength="55" lengthAdjust="spacingAndGlyphs">13 Mar 16:00</text><text x="452" y="829" textLength="55" lengthAdjust="spacingAndGlyphs">14 Mar 08:00</text><text x="516" y="829" textLength="55" lengthAdjust="spacingAndGlyphs">15 Mar 00:00</text><text x="580" y="829" textLength="55" lengthAdjust="spacingAndGlyphs">15 Mar 16:00</text><text x="644" y="829" textLength="55" lengthAdjust="spacingAndGlyphs">16 Mar 08:00</text><text x="708" y="829" textLength="55" lengthAdjust="spacingAndGlyphs">17 Mar 00:00</text><text x="772" y="829" textLength="55" lengthAdjust="spacingAndGlyphs">17 Mar 16:00</text><text x="836" y="829" textLength="55" lengthAdjust="spacingAndGlyphs">20 Mar 08:00</text><text x="900" y="829" textLength="55" lengthAdjust="spacingAndGlyphs">21 Mar 00:00</text><text x="964" y="829" textLength="55" lengthAdjust="spacingAndGlyphs">21 Mar 16:00</text><text x="1028" y="829" textLength="55" lengthAdjust="spacingAndGlyphs">22 Mar 08:00</text><text x="1092" y="829" textLength="55" lengthAdjust="spacingAndGlyphs">23 Mar 00:00</text><text x="1156" y="829" textLength="55" lengthAdjust="spacingAndGlyphs">23 Mar 16:00</text><text x="1220" y="829" textLength="55" lengthAdjust="spacingAndGlyphs">24 Mar 08:00</text></g>
</svg>
</body></html>
